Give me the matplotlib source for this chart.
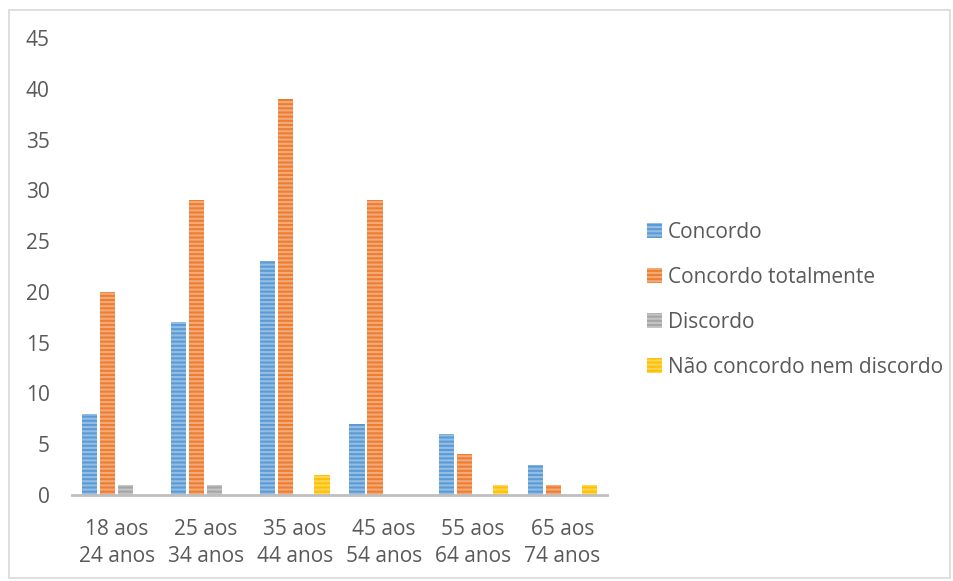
import matplotlib.pyplot as plt
import numpy as np
from matplotlib.patches import Rectangle

categories = ["18 aos\n24 anos", "25 aos\n34 anos", "35 aos\n44 anos",
              "45 aos\n54 anos", "55 aos\n64 anos", "65 aos\n74 anos"]
series_names = ["Concordo", "Concordo totalmente", "Discordo",
                "Não concordo nem discordo"]
concordo = [8, 17, 23, 7, 6, 3]
concordo_totalmente = [20, 29, 39, 29, 4, 1]
discordo = [1, 1, 0, 0, 0, 0]
nao_concordo = [0, 0, 2, 0, 1, 1]
series = [concordo, concordo_totalmente, discordo, nao_concordo]
colors = ["#5b9bd5", "#ed7d31", "#a5a5a5", "#ffc000"]

plt.rcParams['font.family'] = ['Open Sans', 'DejaVu Sans']
plt.rcParams['hatch.linewidth'] = 1.5

W, H = 954, 581
fig = plt.figure(figsize=(W / 100, H / 100), dpi=100)
fig.patches.append(Rectangle((9 / W, 1 - 578 / H), 941 / W, 568 / H,
                             transform=fig.transFigure, fill=False,
                             edgecolor="#d9d9d9", linewidth=1.2))

ax = fig.add_axes([72 / W, 1 - 495 / H, 535 / W, 457 / H])
x = np.arange(len(categories))
bw = 0.17
step = 0.202
for i, (vals, name, c) in enumerate(zip(series, series_names, colors)):
    offs = (i - 1.5) * step
    ax.bar(x + offs, vals, bw, color=c, label=name,
           edgecolor=(1, 1, 1, 0.35), linewidth=0, hatch="----")

ax.set_xlim(-0.5, len(categories) - 0.5)
ax.set_ylim(0, 45)
ax.set_yticks(range(0, 46, 5))
ax.set_xticks(x)
ax.set_xticklabels(categories, linespacing=1.4)
ax.tick_params(axis='both', length=0, labelsize=15, colors="#595959")
ax.tick_params(axis='y', pad=16)
ax.tick_params(axis='x', pad=17)
for s in ["top", "right", "left"]:
    ax.spines[s].set_visible(False)
ax.spines["bottom"].set_color("#bfbfbf")
ax.spines["bottom"].set_linewidth(2)

leg = ax.legend(loc="center left", bbox_to_anchor=(1.04, 0.427), frameon=False,
                fontsize=15, labelcolor="#595959", handlelength=0.7,
                handleheight=0.7, handletextpad=0.3, labelspacing=1.15)

fig.savefig("out.png", dpi=100)
